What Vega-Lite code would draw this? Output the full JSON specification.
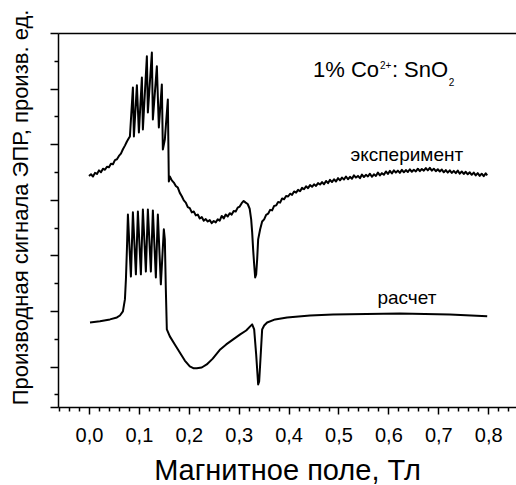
{
  "$schema": "https://vega.github.io/schema/vega-lite/v6.json",
  "width": 458,
  "height": 374,
  "autosize": {"type": "none"},
  "padding": {"left": 58, "top": 33, "right": 0, "bottom": 78},
  "background": "white",
  "config": {
    "view": {"stroke": null},
    "font": "Liberation Sans",
    "axis": {"grid": false, "domainColor": "black", "tickColor": "black", "domainWidth": 1.5, "tickWidth": 1.5, "labelColor": "black", "titleColor": "black", "labelFont": "Liberation Sans", "titleFont": "Liberation Sans", "titleFontWeight": "normal"}
  },
  "resolve": {"axis": {"x": "independent", "y": "independent"}},
  "layer": [
    {
      "data": {"values": [
        {"B":0.000,"S":7.86},{"B":0.004,"S":7.92},{"B":0.008,"S":7.84},{"B":0.012,"S":7.97},{"B":0.016,"S":7.93},{"B":0.020,"S":8.06},{"B":0.024,"S":7.99},{"B":0.028,"S":8.12},{"B":0.032,"S":8.08},{"B":0.036,"S":8.19},{"B":0.040,"S":8.17},{"B":0.044,"S":8.30},{"B":0.048,"S":8.28},{"B":0.052,"S":8.43},{"B":0.056,"S":8.46},{"B":0.060,"S":8.58},{"B":0.064,"S":8.66},{"B":0.068,"S":8.82},{"B":0.072,"S":8.95},{"B":0.076,"S":9.10},{"B":0.080,"S":9.22},{"B":0.082,"S":9.28},
        {"B":0.088,"S":11.04},{"B":0.090,"S":9.28},{"B":0.096,"S":11.12},{"B":0.100,"S":9.42},{"B":0.106,"S":11.40},{"B":0.108,"S":9.53},{"B":0.116,"S":12.16},{"B":0.118,"S":10.14},{"B":0.126,"S":12.30},{"B":0.128,"S":9.89},{"B":0.136,"S":11.80},{"B":0.140,"S":9.60},{"B":0.146,"S":11.15},{"B":0.148,"S":8.81},{"B":0.152,"S":9.17},{"B":0.158,"S":10.61},{"B":0.160,"S":7.66},
        {"B":0.162,"S":7.84},{"B":0.166,"S":7.70},{"B":0.170,"S":7.62},{"B":0.174,"S":7.50},{"B":0.178,"S":7.44},{"B":0.182,"S":7.25},{"B":0.186,"S":7.13},{"B":0.190,"S":6.98},{"B":0.194,"S":6.90},{"B":0.198,"S":6.74},{"B":0.202,"S":6.70},{"B":0.206,"S":6.55},{"B":0.210,"S":6.58},{"B":0.214,"S":6.44},{"B":0.218,"S":6.47},{"B":0.222,"S":6.33},{"B":0.226,"S":6.38},{"B":0.230,"S":6.25},{"B":0.234,"S":6.31},{"B":0.238,"S":6.22},{"B":0.242,"S":6.27},{"B":0.246,"S":6.16},{"B":0.250,"S":6.24},{"B":0.254,"S":6.19},{"B":0.258,"S":6.30},{"B":0.262,"S":6.25},{"B":0.266,"S":6.42},{"B":0.270,"S":6.33},{"B":0.274,"S":6.47},{"B":0.278,"S":6.40},{"B":0.282,"S":6.52},{"B":0.286,"S":6.47},{"B":0.290,"S":6.60},{"B":0.294,"S":6.58},{"B":0.298,"S":6.72},{"B":0.302,"S":6.76},{"B":0.306,"S":6.88},{"B":0.310,"S":6.96},{"B":0.314,"S":6.90},{"B":0.318,"S":6.85},{"B":0.322,"S":6.68},{"B":0.325,"S":6.30},{"B":0.327,"S":5.83},{"B":0.329,"S":5.20},{"B":0.331,"S":4.68},{"B":0.333,"S":4.21},{"B":0.335,"S":4.32},{"B":0.337,"S":4.86},{"B":0.339,"S":5.58},{"B":0.343,"S":5.94},{"B":0.347,"S":6.22},{"B":0.351,"S":6.30},{"B":0.355,"S":6.46},{"B":0.359,"S":6.50},{"B":0.363,"S":6.64},{"B":0.367,"S":6.62},{"B":0.371,"S":6.78},{"B":0.375,"S":6.80},{"B":0.379,"S":6.92},{"B":0.383,"S":6.90},{"B":0.387,"S":7.05},{"B":0.391,"S":7.02},{"B":0.395,"S":7.14},{"B":0.399,"S":7.12},{"B":0.403,"S":7.22},{"B":0.407,"S":7.18},{"B":0.411,"S":7.30},{"B":0.415,"S":7.26},{"B":0.419,"S":7.36},{"B":0.423,"S":7.31},{"B":0.427,"S":7.43},{"B":0.431,"S":7.38},{"B":0.435,"S":7.49},{"B":0.439,"S":7.42},{"B":0.443,"S":7.53},{"B":0.447,"S":7.47},{"B":0.451,"S":7.56},{"B":0.455,"S":7.50},{"B":0.459,"S":7.60},{"B":0.463,"S":7.55},{"B":0.467,"S":7.64},{"B":0.471,"S":7.56},{"B":0.475,"S":7.68},{"B":0.479,"S":7.60},{"B":0.483,"S":7.72},{"B":0.487,"S":7.64},{"B":0.491,"S":7.74},{"B":0.495,"S":7.66},{"B":0.499,"S":7.78},{"B":0.503,"S":7.70},{"B":0.507,"S":7.80},{"B":0.511,"S":7.73},{"B":0.515,"S":7.84},{"B":0.519,"S":7.74},{"B":0.523,"S":7.83},{"B":0.527,"S":7.76},{"B":0.531,"S":7.88},{"B":0.535,"S":7.80},{"B":0.539,"S":7.86},{"B":0.543,"S":7.78},{"B":0.547,"S":7.91},{"B":0.551,"S":7.82},{"B":0.555,"S":7.90},{"B":0.559,"S":7.84},{"B":0.563,"S":7.94},{"B":0.567,"S":7.83},{"B":0.571,"S":7.92},{"B":0.575,"S":7.86},{"B":0.579,"S":7.98},{"B":0.583,"S":7.88},{"B":0.587,"S":7.96},{"B":0.591,"S":7.90},{"B":0.595,"S":8.02},{"B":0.599,"S":7.93},{"B":0.603,"S":8.04},{"B":0.607,"S":7.95},{"B":0.611,"S":8.06},{"B":0.615,"S":7.98},{"B":0.619,"S":8.05},{"B":0.623,"S":7.97},{"B":0.627,"S":8.08},{"B":0.631,"S":7.99},{"B":0.635,"S":8.07},{"B":0.639,"S":8.00},{"B":0.643,"S":8.10},{"B":0.647,"S":8.01},{"B":0.651,"S":8.08},{"B":0.655,"S":8.02},{"B":0.659,"S":8.12},{"B":0.663,"S":8.03},{"B":0.667,"S":8.11},{"B":0.671,"S":8.05},{"B":0.675,"S":8.14},{"B":0.679,"S":8.06},{"B":0.683,"S":8.15},{"B":0.687,"S":8.05},{"B":0.691,"S":8.12},{"B":0.695,"S":8.03},{"B":0.699,"S":8.10},{"B":0.703,"S":8.02},{"B":0.707,"S":8.09},{"B":0.711,"S":7.99},{"B":0.715,"S":8.07},{"B":0.719,"S":7.98},{"B":0.723,"S":8.06},{"B":0.727,"S":7.97},{"B":0.731,"S":8.04},{"B":0.735,"S":7.96},{"B":0.739,"S":8.05},{"B":0.743,"S":7.94},{"B":0.747,"S":8.02},{"B":0.751,"S":7.93},{"B":0.755,"S":8.01},{"B":0.759,"S":7.92},{"B":0.763,"S":7.99},{"B":0.767,"S":7.90},{"B":0.771,"S":7.98},{"B":0.775,"S":7.88},{"B":0.779,"S":7.96},{"B":0.783,"S":7.86},{"B":0.787,"S":7.94},{"B":0.791,"S":7.85},{"B":0.795,"S":7.95},{"B":0.798,"S":7.88}
      ]},
      "mark": {"type": "line", "color": "black", "strokeWidth": 2, "strokeJoin": "round"},
      "encoding": {
        "x": {"field": "B", "type": "quantitative", "scale": {"domain": [-0.0621, 0.8557], "nice": false, "zero": false},
          "axis": {"orient": "bottom", "values": [0,0.1,0.2,0.3,0.4,0.5,0.6,0.7,0.8], "tickSize": 7, "labelFontSize": 20, "labelPadding": 11, "labelExpr": "replace(format(datum.value, '.1f'), '.', ',')", "title": "Магнитное поле, Тл", "titleFontSize": 29, "titleBaseline": "alphabetic", "titleY": 72}},
        "y": {"field": "S", "type": "quantitative", "scale": {"domain": [-0.45, 13.0], "nice": false, "zero": false},
          "axis": {"orient": "left", "values": [-0.45,1,3,5,7,9,11,13], "tickSize": 8, "labels": false, "title": "Производная сигнала ЭПР, произв. ед.", "titleFontSize": 22, "titlePadding": 17, "titleY": 174}}
      }
    },
    {
      "data": {"values": [
        {"B":0.002,"S":2.59},{"B":0.022,"S":2.63},{"B":0.042,"S":2.70},{"B":0.056,"S":2.77},{"B":0.062,"S":2.84},{"B":0.068,"S":2.99},{"B":0.072,"S":3.42},{"B":0.074,"S":4.14},{"B":0.076,"S":5.22},{"B":0.078,"S":6.47},
        {"B":0.084,"S":4.24},{"B":0.088,"S":6.55},{"B":0.094,"S":4.32},{"B":0.098,"S":6.58},{"B":0.104,"S":4.32},{"B":0.108,"S":6.65},{"B":0.114,"S":4.42},{"B":0.118,"S":6.65},{"B":0.124,"S":4.42},{"B":0.128,"S":6.62},{"B":0.134,"S":4.21},{"B":0.138,"S":6.47},{"B":0.144,"S":3.96},{"B":0.150,"S":5.94},{"B":0.152,"S":5.58},{"B":0.154,"S":3.78},{"B":0.156,"S":2.34},
        {"B":0.162,"S":2.09},{"B":0.172,"S":1.80},{"B":0.182,"S":1.51},{"B":0.192,"S":1.22},{"B":0.202,"S":1.01},{"B":0.210,"S":0.94},{"B":0.216,"S":0.94},{"B":0.226,"S":0.97},{"B":0.236,"S":1.08},{"B":0.248,"S":1.29},{"B":0.263,"S":1.62},{"B":0.275,"S":1.80},{"B":0.289,"S":1.98},{"B":0.303,"S":2.16},{"B":0.315,"S":2.30},{"B":0.323,"S":2.45},{"B":0.327,"S":2.52},{"B":0.331,"S":2.34},{"B":0.335,"S":1.44},{"B":0.339,"S":0.36},{"B":0.341,"S":0.47},{"B":0.343,"S":1.08},{"B":0.347,"S":2.34},{"B":0.351,"S":2.48},{"B":0.357,"S":2.59},{"B":0.373,"S":2.70},{"B":0.397,"S":2.77},{"B":0.443,"S":2.84},{"B":0.489,"S":2.88},{"B":0.623,"S":2.91},{"B":0.723,"S":2.88},{"B":0.798,"S":2.81}
      ]},
      "mark": {"type": "line", "color": "black", "strokeWidth": 2, "strokeJoin": "round"},
      "encoding": {
        "x": {"field": "B", "type": "quantitative", "scale": {"domain": [-0.0621, 0.8557], "nice": false, "zero": false},
          "axis": {"orient": "bottom", "values": [-0.06,-0.04,-0.02,0.02,0.04,0.06,0.08,0.12,0.14,0.16,0.18,0.22,0.24,0.26,0.28,0.32,0.34,0.36,0.38,0.42,0.44,0.46,0.48,0.52,0.54,0.56,0.58,0.62,0.64,0.66,0.68,0.72,0.74,0.76,0.78,0.82,0.84], "tickSize": 4, "labels": false, "domain": false, "title": null}},
        "y": {"field": "S", "type": "quantitative", "scale": {"domain": [-0.45, 13.0], "nice": false, "zero": false},
          "axis": {"orient": "left", "values": [0,2,4,6,8,10,12], "tickSize": 4, "labels": false, "domain": false, "title": null}}
      }
    },
    {
      "data": {"values": [{"B":0.637,"S":8.38,"label":"эксперимент"},{"B":0.637,"S":3.24,"label":"расчет"}]},
      "mark": {"type": "text", "fontSize": 19, "align": "center", "baseline": "alphabetic", "color": "black", "font": "Liberation Sans"},
      "encoding": {
        "x": {"field": "B", "type": "quantitative", "scale": {"domain": [-0.0621, 0.8557], "nice": false, "zero": false},
          "axis": {"orient": "top", "domain": true, "ticks": false, "labels": false, "title": null}},
        "y": {"field": "S", "type": "quantitative", "scale": {"domain": [-0.45, 13.0], "nice": false, "zero": false}, "axis": null},
        "text": {"field": "label"}
      }
    },
    {
      "data": {"values": [{"B":0.449,"S":11.43,"label":"1% Co"},{"B":0.607,"S":11.43,"label":": SnO"}]},
      "mark": {"type": "text", "fontSize": 22, "align": "left", "baseline": "alphabetic", "color": "black", "font": "Liberation Sans"},
      "encoding": {
        "x": {"field": "B", "type": "quantitative", "scale": {"domain": [-0.0621, 0.8557], "nice": false, "zero": false}, "axis": null},
        "y": {"field": "S", "type": "quantitative", "scale": {"domain": [-0.45, 13.0], "nice": false, "zero": false}, "axis": null},
        "text": {"field": "label"}
      }
    },
    {
      "data": {"values": [{"B":0.583,"S":11.72,"label":"2+"},{"B":0.721,"S":11.11,"label":"2"}]},
      "mark": {"type": "text", "fontSize": 10, "align": "left", "baseline": "alphabetic", "color": "black", "font": "Liberation Sans"},
      "encoding": {
        "x": {"field": "B", "type": "quantitative", "scale": {"domain": [-0.0621, 0.8557], "nice": false, "zero": false}, "axis": null},
        "y": {"field": "S", "type": "quantitative", "scale": {"domain": [-0.45, 13.0], "nice": false, "zero": false}, "axis": null},
        "text": {"field": "label"}
      }
    }
  ]
}
